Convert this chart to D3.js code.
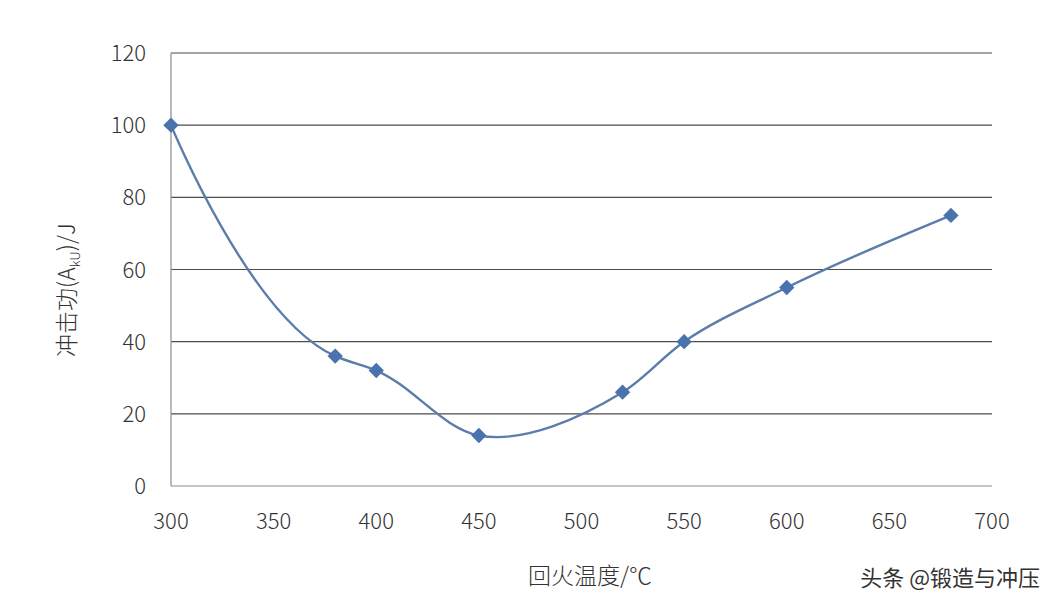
<!DOCTYPE html>
<meta charset="utf-8">
<style>
  body { margin: 0; background: #fff; }
  text { font-family: "Noto Sans CJK SC", "Noto Sans", sans-serif; fill: #333; font-weight: 300; }
</style>
<svg width="1059" height="610"></svg>
<script src="https://cdn.jsdelivr.net/npm/d3@7"></script>
<script>
var temps = [300, 380, 400, 450, 520, 550, 600, 680];
var energy = [100, 36, 32, 14, 26, 40, 55, 75];
var xTicks = [300, 350, 400, 450, 500, 550, 600, 650, 700];
var yTicks = [0, 20, 40, 60, 80, 100, 120];

var svg = d3.select("svg");
var x = d3.scaleLinear().domain([300, 700]).range([171, 992]);
var y = d3.scaleLinear().domain([0, 120]).range([486, 53]);

// gridlines
svg.append("g").selectAll("line")
  .data(yTicks.filter(d => d > 0))
  .join("line")
    .attr("x1", x(300)).attr("x2", x(700))
    .attr("y1", d => y(d)).attr("y2", d => y(d))
    .attr("stroke", "#4d4d4d").attr("stroke-width", 1.2);

// axes lines
svg.append("line").attr("x1", x(300)).attr("x2", x(300)).attr("y1", y(0)).attr("y2", y(120))
  .attr("stroke", "#8c8c8c").attr("stroke-width", 1.2);
svg.append("line").attr("x1", x(300)).attr("x2", x(700)).attr("y1", y(0)).attr("y2", y(0))
  .attr("stroke", "#8c8c8c").attr("stroke-width", 1.2);

svg.append("g").selectAll("text")
  .data(yTicks).join("text")
    .attr("x", 146).attr("y", d => y(d) + 8)
    .attr("text-anchor", "end").attr("font-size", 22)
    .text(d => d);

svg.append("g").selectAll("text")
  .data(xTicks).join("text")
    .attr("x", d => x(d)).attr("y", 529)
    .attr("text-anchor", "middle").attr("font-size", 22)
    .text(d => d);

var pts = temps.map((t, i) => [t, energy[i]]);
svg.append("path")
  .datum(pts)
  .attr("d", d3.line().x(d => x(d[0])).y(d => y(d[1])).curve(d3.curveCatmullRom.alpha(1)))
  .attr("fill", "none").attr("stroke", "#5a7dab").attr("stroke-width", 2.4);

svg.append("g").selectAll("path")
  .data(pts).join("path")
    .attr("d", d3.symbol(d3.symbolDiamond2, 150))
    .attr("transform", d => `translate(${x(d[0])},${y(d[1])})`)
    .attr("fill", "#4a72ad");

// axis titles
var yl = svg.append("text")
  .attr("transform", "translate(75,290) rotate(-90)")
  .attr("text-anchor", "middle").attr("font-size", 23);
yl.append("tspan").text("冲击功(A");
yl.append("tspan").attr("font-size", 13).attr("dy", 5).text("kU");
yl.append("tspan").attr("dy", -5).text(")/J");

svg.append("text").attr("x", 590).attr("y", 584)
  .attr("text-anchor", "middle").attr("font-size", 23).text("回火温度/℃");

svg.append("text").attr("x", 1040).attr("y", 586)
  .attr("text-anchor", "end").attr("font-size", 22).attr("fill", "#222").style("font-weight", 400).text("头条 @锻造与冲压");
</script>
